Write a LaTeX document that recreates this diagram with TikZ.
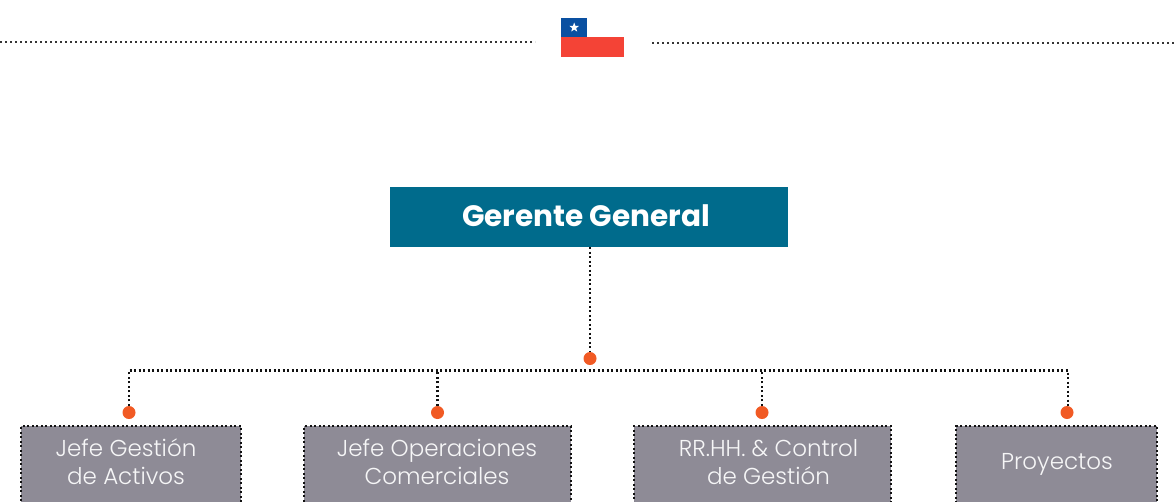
\documentclass[tikz,border=0pt]{standalone}
\usepackage{fontspec}
\setmainfont{Poppins}
\newfontfamily\puestofont{Poppins Light}
\usepackage{xcolor}
\usepackage{tikz}
\usetikzlibrary{positioning,calc,shapes.geometric}
\definecolor{gerenteblue}{HTML}{006B8C}
\definecolor{boxgrey}{HTML}{8E8B96}
\definecolor{dotorange}{HTML}{F15A24}
\definecolor{flagblue}{HTML}{0A50A1}
\definecolor{flagred}{HTML}{F44336}
\definecolor{dotline}{HTML}{111111}

\begin{document}
\begin{tikzpicture}[
  x=1pt, y=-1pt,
  dotted line/.style={draw=dotline, line width=2.2pt, dash pattern=on 2pt off 2.5pt},
  top rule/.style={draw=dotline!85, line width=2.2pt, dash pattern=on 2.2pt off 2.8pt},
  gerente/.style={fill=gerenteblue, text=white, minimum width=398pt, minimum height=60pt,
                  inner sep=0pt, font=\fontsize{29.5}{34}\selectfont\bfseries},
  puesto/.style={fill=boxgrey, inner sep=0pt, minimum height=90pt, dotted line},
  puestotext/.style={text=white!92!boxgrey, align=center, inner sep=0pt,
                     font=\fontsize{23}{28}\puestofont},
  joint/.style={circle, fill=dotorange, minimum size=13pt, inner sep=0pt},
]
\useasboundingbox (0,0) rectangle (1175,501);

% Flag and top rule
\node[fill=flagred, minimum width=63pt, minimum height=20pt, inner sep=0pt] (flagr) at (592.5,47) {};
\node[fill=flagblue, minimum width=26.5pt, minimum height=19pt, inner sep=0pt] (flagb) at (574.2,27.5) {};
\node[star, star points=5, star point ratio=2.4, fill=white, minimum size=10pt, inner sep=0pt] (flagstar) at (574.2,27.5) {};
\coordinate (ruleLa) at (0,42);
\coordinate (ruleLb) at (535,42);
\coordinate (ruleRa) at (652,43);
\coordinate (ruleRb) at (1175,43);
\draw[top rule] (ruleLa) -- (ruleLb);
\draw[top rule] (ruleRa) -- (ruleRb);

% Gerente General
\node[gerente] (gg) at (589,217) {\raisebox{2pt}{Gerente General\kern6pt}};
\node[joint] (jgg) at (590,358.5) {};
\draw[dotted line] (gg.south -| jgg) -- (jgg.north);

% Puestos
\node[puesto, minimum width=220pt] (p1) at (131,471) {};
\node[puesto, minimum width=267pt] (p2) at (437.5,471) {};
\node[puesto, minimum width=257pt] (p3) at (762.5,471) {};
\node[puesto, minimum width=201pt] (p4) at (1056.5,471) {};
\node[puestotext] (t1) at (126,462) {Jefe Gestión\\de Activos};
\node[puestotext] (t2) at (437,462) {Jefe Operaciones\\Comerciales};
\node[puestotext] (t3) at (768.5,462) {RR.HH. \& Control\\de Gestión};
\node[puestotext] (t4) at (1057,464) {Proyectos};

% Joints and bus
\node[joint] (j1) at (129,412.5) {};
\node[joint] (j2) at (437.5,412.5) {};
\node[joint] (j3) at (762,412.5) {};
\node[joint] (j4) at (1067,412.5) {};
\coordinate (bus) at (0,370.5);
\draw[dotted line] (j1.north) -- (j1 |- bus) -- ($(j4 |- bus)+(1,0)$) -- ($(j4.north)+(1,0)$);
\draw[dotted line] (j2.north) -- (j2 |- bus);
\draw[dotted line] (j3.north) -- (j3 |- bus);
\end{tikzpicture}
\end{document}
